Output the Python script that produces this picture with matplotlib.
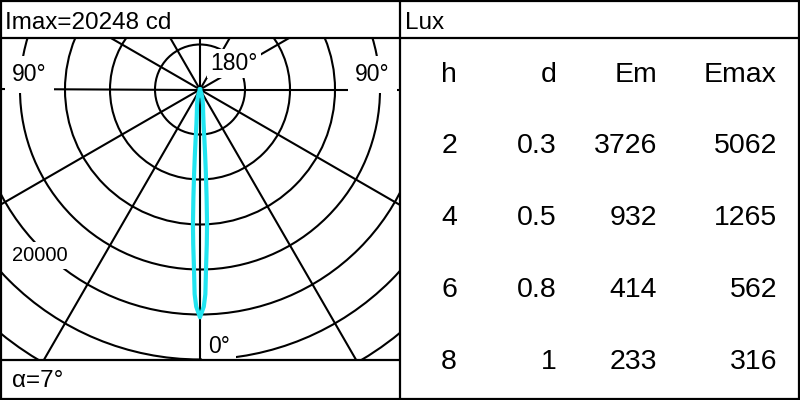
import numpy as np
import matplotlib
matplotlib.use("Agg")
import matplotlib.pyplot as plt
from matplotlib.patches import Circle

# ---------------- data ----------------
imax_cd = 20248
beam_angle = 7
# luminous intensity (cd) vs angle from nadir (deg), symmetric beam
curve_angle = [0, 1, 1.5, 2, 2.5, 3, 3.5, 4, 4.5, 5, 6, 8, 11, 15, 20, 30, 90]
curve_cd = [20248, 19300, 18200, 15600, 13800, 12000, 9600, 7500, 5800, 4500,
            3000, 2000, 1400, 800, 300, 0, 0]
ring_cd = [4000, 8000, 12000, 16000, 20000, 24000, 28000, 32000]
ring_label = "20000"
spoke_deg = [0, 30, 60, 90, 120, 150, 180, 210, 240, 270, 300, 330]

table_cols = ["h", "d", "Em", "Emax"]
h_vals = ["2", "4", "6", "8"]
d_vals = ["0.3", "0.5", "0.8", "1"]
em_vals = ["3726", "932", "414", "233"]
emax_vals = ["5062", "1265", "562", "316"]

# ---------------- figure ----------------
W, H = 800, 400
fig = plt.figure(figsize=(8, 4), dpi=100)
fig.patch.set_facecolor("white")

# polar diagram panel (pixel box x 0..400, y 38..360; centre at (200, 89.5))
px_per_cd = 45 / 4000
cx, cy = 200, 89.5
top_px, bot_px = 38, 360
ax_p = fig.add_axes([0, (H - bot_px) / H, 0.5, (bot_px - top_px) / H])
ax_p.set_xlim(-cx / px_per_cd, (400 - cx) / px_per_cd)
ax_p.set_ylim(-(bot_px - cy) / px_per_cd, (cy - top_px) / px_per_cd)
ax_p.set_axis_off()

grid_lw = 1.5
for r in ring_cd:
    ax_p.add_patch(Circle((0, 0), r, fill=False, ec="black", lw=grid_lw, zorder=1))
far = 60000
for a in spoke_deg:
    t = np.deg2rad(a)
    ax_p.plot([0, far * np.sin(t)], [0, -far * np.cos(t)], color="black", lw=grid_lw, zorder=1)

ang = np.deg2rad(np.array(curve_angle, dtype=float))
I = np.array(curve_cd, dtype=float)
full_ang = np.concatenate([-ang[::-1], ang[1:]])
full_I = np.concatenate([I[::-1], I[1:]])
ax_p.plot(full_I * np.sin(full_ang), -full_I * np.cos(full_ang),
          color="#22e4f0", lw=3.0, zorder=4, solid_joinstyle="round")

# overlay in pixel coordinates for frames and text
ax = fig.add_axes([0, 0, 1, 1])
ax.set_xlim(0, W)
ax.set_ylim(H, 0)
ax.set_axis_off()
ax.patch.set_alpha(0)

fk = dict(color="black", lw=1.6, zorder=6, solid_capstyle="butt")
ax.plot([0, W], [1, 1], **fk)
ax.plot([0, W], [H - 1.5, H - 1.5], **fk)
ax.plot([1, 1], [0, H], **fk)
ax.plot([W - 1.5, W - 1.5], [0, H], **fk)
ax.plot([400, 400], [0, H], **fk)
ax.plot([0, W], [38, 38], **fk)
ax.plot([0, 400], [360, 360], **fk)

fam = ["Liberation Sans", "DejaVu Sans"]
ax.text(5, 29, f"Imax={imax_cd} cd", fontsize=17.5, family=fam, va="baseline", ha="left")
ax.text(405, 29, "Lux", fontsize=17.5, family=fam, va="baseline", ha="left")
ax.text(12, 387, f"α={beam_angle}°", fontsize=17.5, family=fam, va="baseline", ha="left")


def lab(x, y, s, size, pad):
    ax.text(x, y, s, fontsize=size, family=fam, va="baseline", ha="left", zorder=3,
            bbox=dict(boxstyle=f"square,pad={pad}", fc="white", ec="none"))


lab(12, 81, "90°", 16.5, 0.3)
lab(355, 81, "90°", 16.5, 0.3)
lab(210, 70, "180°", 16.5, 0.15)
lab(208, 353, "0°", 16.5, 0.25)
lab(12, 261, ring_label, 14.5, 0.2)

# table
col_right = [457, 557, 657, 777]
header_base = 82
row_base = [153, 225, 297, 369]
for xr, c in zip(col_right, table_cols):
    ax.text(xr, header_base, c, fontsize=20.5, family=fam, ha="right", va="baseline")
for i, row in enumerate(zip(h_vals, d_vals, em_vals, emax_vals)):
    for xr, v in zip(col_right, row):
        ax.text(xr, row_base[i], v, fontsize=20.5, family=fam, ha="right", va="baseline")

fig.savefig("out.png", dpi=100, facecolor="white")
